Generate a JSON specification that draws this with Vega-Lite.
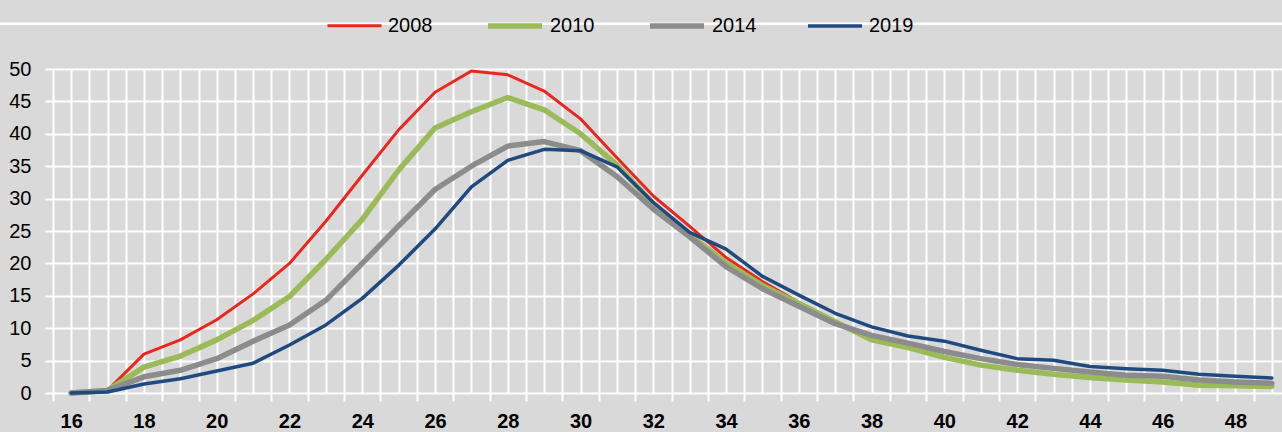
{
  "$schema": "https://vega.github.io/schema/vega-lite/v6.json",
  "autosize": {"type": "none"},
  "padding": {"left": 53, "top": 69, "right": 0, "bottom": 39},
  "width": 1229,
  "height": 324,
  "background": "#d9d9d9",
  "config": {
    "view": {"stroke": null, "fill": "#d9d9d9"},
    "font": "Liberation Sans, Arial, sans-serif"
  },
  "data": {
    "values": [
      {"age": 16, "2008": 0, "2010": 0, "2014": 0, "2019": 0},
      {"age": 17, "2008": 0.4, "2010": 0.4, "2014": 0.4, "2019": 0.15},
      {"age": 18, "2008": 6.0, "2010": 4.0, "2014": 2.5, "2019": 1.4},
      {"age": 19, "2008": 8.2, "2010": 5.7, "2014": 3.5, "2019": 2.2},
      {"age": 20, "2008": 11.3, "2010": 8.2, "2014": 5.3, "2019": 3.4},
      {"age": 21, "2008": 15.3, "2010": 11.2, "2014": 8.0, "2019": 4.6},
      {"age": 22, "2008": 20.0, "2010": 14.9, "2014": 10.5, "2019": 7.4},
      {"age": 23, "2008": 26.5, "2010": 20.6, "2014": 14.3, "2019": 10.5},
      {"age": 24, "2008": 33.6, "2010": 26.8, "2014": 20.0, "2019": 14.6},
      {"age": 25, "2008": 40.6, "2010": 34.4, "2014": 25.8, "2019": 19.7},
      {"age": 26, "2008": 46.4, "2010": 40.9, "2014": 31.4, "2019": 25.3},
      {"age": 27, "2008": 49.7, "2010": 43.4, "2014": 35.0, "2019": 31.8},
      {"age": 28, "2008": 49.1, "2010": 45.6, "2014": 38.1, "2019": 35.9},
      {"age": 29, "2008": 46.6, "2010": 43.7, "2014": 38.8, "2019": 37.6},
      {"age": 30, "2008": 42.3, "2010": 40.0, "2014": 37.4, "2019": 37.4},
      {"age": 31, "2008": 36.3, "2010": 35.2, "2014": 33.4, "2019": 34.9},
      {"age": 32, "2008": 30.4, "2010": 29.2, "2014": 28.4, "2019": 29.4},
      {"age": 33, "2008": 25.7, "2010": 24.4, "2014": 24.1, "2019": 24.8},
      {"age": 34, "2008": 20.9, "2010": 20.1, "2014": 19.5, "2019": 22.2},
      {"age": 35, "2008": 17.2, "2010": 16.6, "2014": 16.1, "2019": 18.0},
      {"age": 36, "2008": 14.0, "2010": 13.8, "2014": 13.4, "2019": 15.1},
      {"age": 37, "2008": 11.1, "2010": 11.0, "2014": 10.7, "2019": 12.3},
      {"age": 38, "2008": 8.3, "2010": 8.2, "2014": 8.9, "2019": 10.2},
      {"age": 39, "2008": 7.1, "2010": 7.0, "2014": 7.7, "2019": 8.8},
      {"age": 40, "2008": 5.6, "2010": 5.5, "2014": 6.4, "2019": 8.0},
      {"age": 41, "2008": 4.4, "2010": 4.3, "2014": 5.3, "2019": 6.6},
      {"age": 42, "2008": 3.6, "2010": 3.5, "2014": 4.4, "2019": 5.3},
      {"age": 43, "2008": 3.0, "2010": 2.9, "2014": 3.8, "2019": 5.05},
      {"age": 44, "2008": 2.5, "2010": 2.4, "2014": 3.25, "2019": 4.1},
      {"age": 45, "2008": 2.1, "2010": 2.0, "2014": 2.75, "2019": 3.75},
      {"age": 46, "2008": 1.8, "2010": 1.7, "2014": 2.6, "2019": 3.5},
      {"age": 47, "2008": 1.3, "2010": 1.2, "2014": 2.0, "2019": 2.9},
      {"age": 48, "2008": 1.2, "2010": 1.1, "2014": 1.7, "2019": 2.6},
      {"age": 49, "2008": 1.1, "2010": 1.0, "2014": 1.5, "2019": 2.3}
    ]
  },
  "layer": [
    {
      "data": {"values": [{}]},
      "mark": {"type": "rule", "color": "white", "strokeWidth": 2.5, "clip": false},
      "encoding": {
        "y": {"datum": 57, "type": "quantitative"},
        "x": {"datum": 14, "type": "quantitative"},
        "x2": {"datum": 49.3}
      }
    },
    {
      "transform": [{"fold": ["2008", "2010", "2014", "2019"], "as": ["year", "value"]}],
      "mark": {"type": "line", "strokeCap": "round", "strokeJoin": "round"},
      "encoding": {
        "x": {
          "field": "age",
          "type": "quantitative",
          "scale": {"domain": [15.5, 49.28], "nice": false, "zero": false},
          "axis": {
            "title": null,
            "values": [15.5, 16, 16.5, 17, 17.5, 18, 18.5, 19, 19.5, 20, 20.5, 21, 21.5, 22, 22.5, 23, 23.5, 24, 24.5, 25, 25.5, 26, 26.5, 27, 27.5, 28, 28.5, 29, 29.5, 30, 30.5, 31, 31.5, 32, 32.5, 33, 33.5, 34, 34.5, 35, 35.5, 36, 36.5, 37, 37.5, 38, 38.5, 39, 39.5, 40, 40.5, 41, 41.5, 42, 42.5, 43, 43.5, 44, 44.5, 45, 45.5, 46, 46.5, 47, 47.5, 48, 48.5, 49],
            "tickCount": 1000,
            "grid": true,
            "gridColor": "white",
            "gridWidth": 2,
            "gridOpacity": 1,
            "domain": false,
            "ticks": true,
            "tickColor": "white",
            "tickWidth": 2,
            "tickSize": 8,
            "tickOpacity": {"condition": {"test": "datum.value % 1 !== 0", "value": 1}, "value": 0},
            "labelExpr": "datum.value % 2 === 0 ? '' + datum.value : ''",
            "labelOverlap": false,
            "labelFlush": false,
            "labelBound": false,
            "labelPadding": 10,
            "labelFontSize": 20,
            "labelFontWeight": "bold",
            "labelColor": "black",
            "labelBaseline": "top"
          }
        },
        "y": {
          "field": "value",
          "type": "quantitative",
          "scale": {"domain": [0, 50], "nice": false, "zero": true},
          "axis": {
            "title": null,
            "values": [0, 5, 10, 15, 20, 25, 30, 35, 40, 45, 50],
            "tickCount": 1000,
            "format": "d",
            "labelOverlap": false,
            "labelBound": false,
            "labelFlush": false,
            "grid": true,
            "gridColor": "white",
            "gridWidth": 2,
            "gridOpacity": 1,
            "domain": false,
            "tickColor": "white",
            "tickWidth": 2,
            "tickSize": 8,
            "labelPadding": 14,
            "labelFontSize": 20,
            "labelColor": "black"
          }
        },
        "color": {
          "field": "year",
          "type": "nominal",
          "title": null,
          "scale": {"domain": ["2008", "2010", "2014", "2019"], "range": ["#e8281e", "#9bbb59", "#8c8c8c", "#1f4a80"]},
          "legend": {
            "orient": "none",
            "direction": "horizontal",
            "legendX": 273,
            "legendY": -73,
            "padding": 0,
            "symbolType": "stroke",
            "symbolSize": 2916,
            "symbolOpacity": 1,
            "labelFontSize": 20,
            "labelColor": "black",
            "labelOffset": 5,
            "columnPadding": 44
          }
        },
        "strokeWidth": {
          "field": "year",
          "type": "nominal",
          "title": null,
          "scale": {"type": "ordinal", "domain": ["2008", "2010", "2014", "2019"], "range": [3, 5.5, 5.5, 3.5]}
        }
      }
    }
  ]
}
